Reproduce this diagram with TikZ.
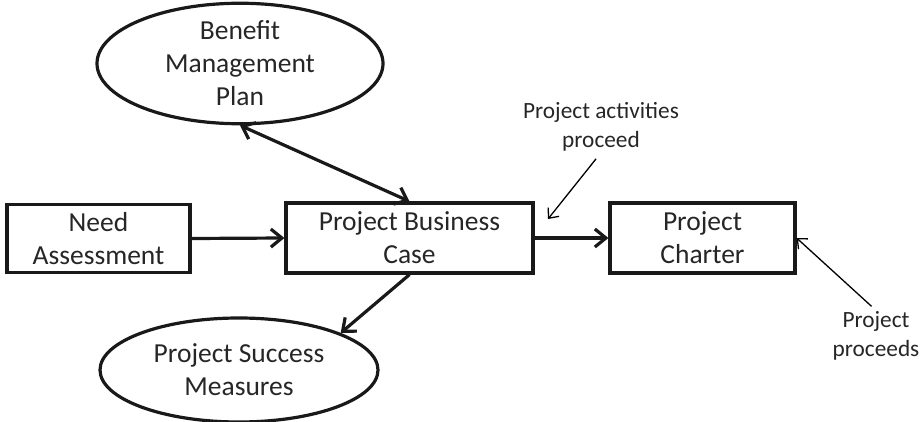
\documentclass[tikz,border=0pt]{standalone}
\usepackage{fontspec}
\setmainfont{Carlito}
\usetikzlibrary{arrows.meta,shapes.geometric}
\begin{document}
\begin{tikzpicture}[x=1pt,y=-1pt,
  every node/.style={text=black!85},
  bigtext/.style={font=\fontsize{27.5}{33}\selectfont, align=center},
  smalltext/.style={font=\fontsize{23.3}{29}\selectfont, align=center, inner sep=1pt},
  boxnode/.style={bigtext, draw=black!90, line width=3.2pt, rectangle, inner sep=0pt},
  ellnode/.style={bigtext, draw=black!90, line width=3.2pt, ellipse, inner sep=0pt},
  bighead/.style={Straight Barb[length=11pt,width=18pt,line width=3.2pt]},
  thickarrow/.style={draw=black!90, line width=3.2pt, -{Straight Barb[length=11pt,width=18pt,line width=3.2pt]}},
  thinarrow/.style={line width=1.3pt, -{Straight Barb[length=8pt,width=14pt,line width=1.3pt]}}
]
\useasboundingbox (0,0) rectangle (923,422);
\node[boxnode, minimum width=183pt, minimum height=68pt] (need) at (98.5,238.5) {Need\\Assessment};
\node[boxnode, minimum width=247pt, minimum height=70pt] (pbc) at (409.5,238) {Project Business\\Case};
\node[boxnode, minimum width=185pt, minimum height=70pt] (ch) at (702.5,238) {Project\\Charter};
\node[ellnode, minimum width=286pt, minimum height=107pt] (ben) at (240,63.5) {Benefit\\Management\\Plan};
\node[ellnode, minimum width=278pt, minimum height=104pt] (suc) at (239,370) {Project Success\\Measures};
\node[smalltext] (pa) at (601,127) {Project activities\\proceed};
\node[smalltext] (pp) at (876,336) {Project\\proceeds};
\coordinate (paend) at (548,219);

\draw[thickarrow] (need.east) -- (pbc.west);
\draw[thickarrow] (pbc.east) -- (ch.west);
\draw[draw=black!90, line width=3.2pt, {Straight Barb[length=11pt,width=18pt,line width=3.2pt]}-{Straight Barb[length=11pt,width=18pt,line width=3.2pt]}] (ben.south) -- (pbc.north);
\draw[thickarrow] (pbc.south) -- (suc.20);
\draw[thinarrow, shorten <=8pt] (pa.south) -- (paend);
\draw[thinarrow, shorten <=6pt] (pp.north) -- (ch.east);
\end{tikzpicture}
\end{document}
